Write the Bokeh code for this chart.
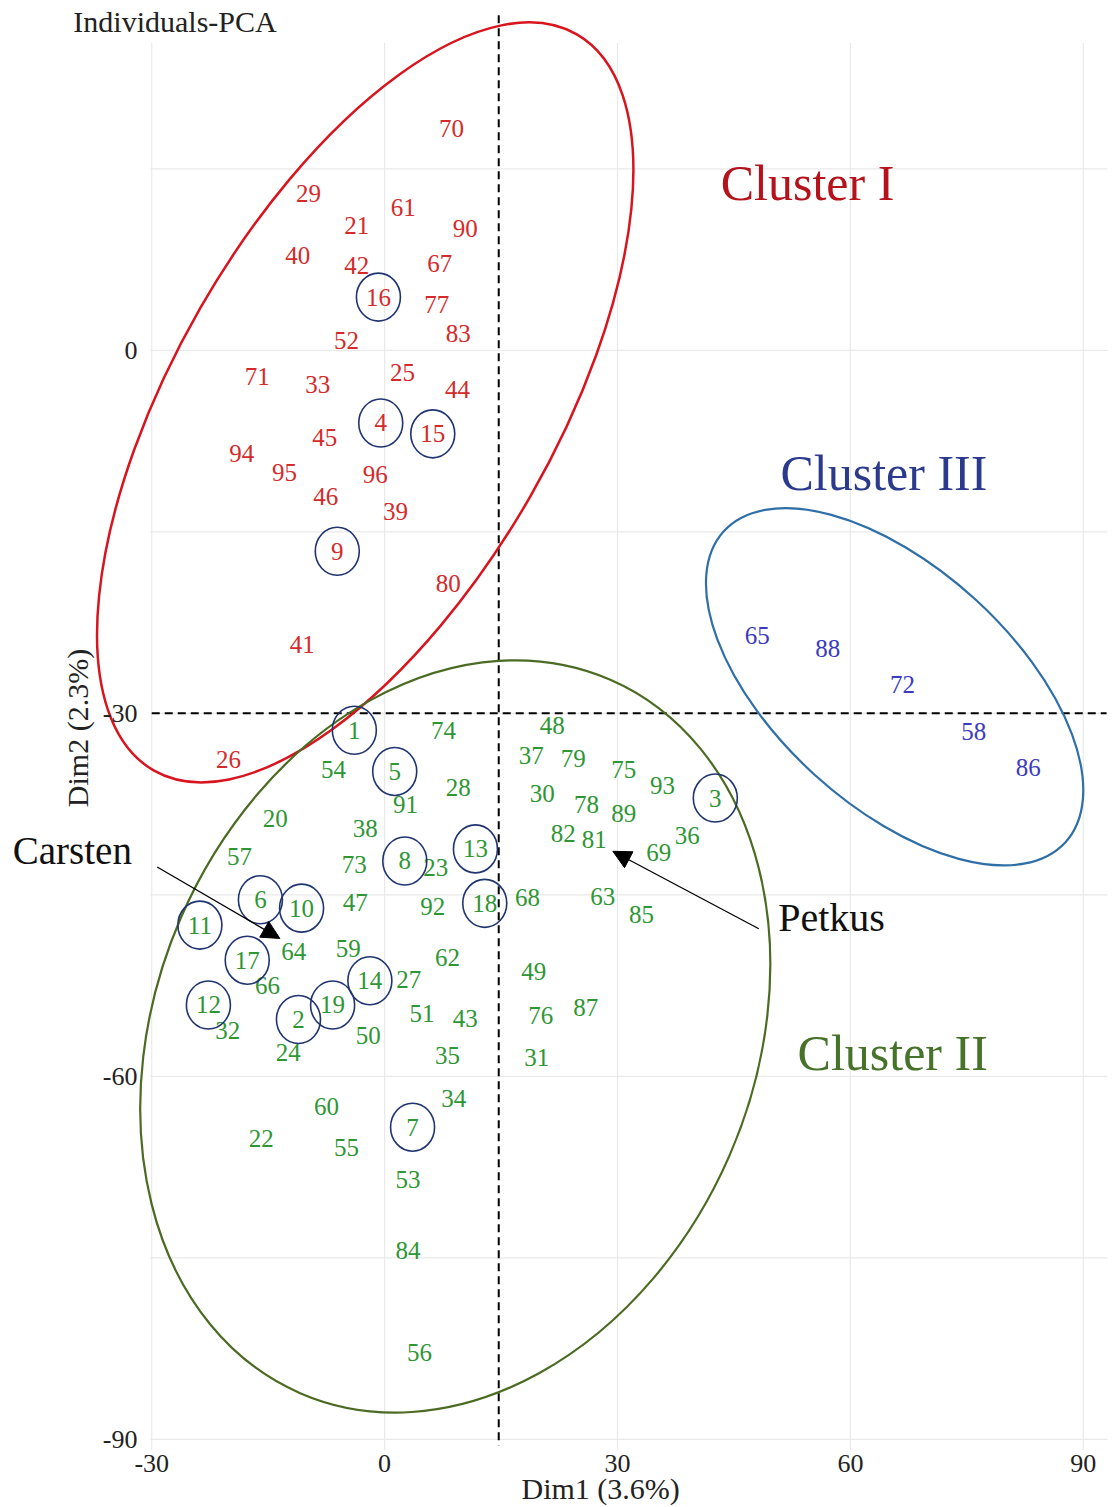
from bokeh.plotting import figure
from bokeh.models import (FixedTicker, Label, Arrow, NormalHead, Range1d, Title,
                          ColumnDataSource)
from bokeh.core.properties import value
from bokeh.embed import file_html
from bokeh.resources import INLINE

# ---------------- data (PCA individual coordinates) ----------------
c1_ids = ["70", "29", "61", "21", "90", "40", "42", "67", "16", "77", "83", "52", "71", "33",
          "25", "44", "4", "15", "45", "94", "95", "96", "46", "39", "9", "80", "41", "26"]
c1_x = [8.6, -9.8, 2.4, -3.6, 10.4, -11.2, -3.6, 7.1, -0.8, 6.7, 9.5, -4.9, -16.4, -8.6,
        2.3, 9.4, -0.5, 6.2, -7.7, -18.4, -12.9, -1.2, -7.6, 1.4, -6.1, 8.2, -10.6, -20.1]
c1_y = [18.3, 13.0, 11.8, 10.3, 10.1, 7.8, 7.0, 7.2, 4.4, 3.8, 1.4, 0.8, -2.2, -2.8,
        -1.8, -3.2, -6.0, -6.9, -7.2, -8.5, -10.1, -10.3, -12.1, -13.3, -16.6, -19.3, -24.3, -33.8]

c2_ids = ["1", "74", "54", "5", "28", "91", "20", "38", "8", "23", "13", "57", "73", "6",
          "10", "47", "92", "18", "68", "11", "64", "59", "62", "17", "14", "27", "49", "66",
          "12", "19", "2", "32", "51", "43", "76", "87", "50", "24", "35", "31", "60", "34",
          "7", "22", "55", "53", "84", "56", "48", "37", "79", "75", "93", "30", "78", "89",
          "3", "82", "81", "36", "69", "63", "85"]
c2_x = [-3.9, 7.6, -6.6, 1.3, 9.5, 2.7, -14.1, -2.5, 2.6, 6.6, 11.7, -18.7, -3.9, -16.0,
        -10.7, -3.8, 6.2, 12.9, 18.4, -23.8, -11.7, -4.7, 8.1, -17.7, -1.9, 3.1, 19.2, -15.1,
        -22.7, -6.7, -11.1, -20.2, 4.8, 10.4, 20.1, 25.9, -2.1, -12.4, 8.1, 19.6, -7.5, 8.9,
        3.6, -15.9, -4.9, 3.0, 3.0, 4.5, 21.6, 18.9, 24.3, 30.8, 35.8, 20.3, 26.0, 30.8,
        42.6, 23.0, 27.0, 39.0, 35.3, 28.1, 33.1]
c2_y = [-31.4, -31.4, -34.6, -34.8, -36.1, -37.5, -38.7, -39.5, -42.2, -42.7, -41.2, -41.8, -42.5, -45.4,
        -46.1, -45.6, -46.0, -45.7, -45.2, -47.5, -49.7, -49.4, -50.2, -50.4, -52.1, -52.0, -51.3, -52.5,
        -54.1, -54.1, -55.3, -56.2, -54.8, -55.2, -55.0, -54.3, -56.6, -58.0, -58.3, -58.4, -62.5, -61.8,
        -64.2, -65.1, -65.9, -68.5, -74.4, -82.8, -31.0, -33.5, -33.7, -34.6, -36.0, -36.6, -37.5, -38.3,
        -37.0, -39.9, -40.4, -40.1, -41.5, -45.1, -46.6]

c3_ids = ["65", "88", "72", "58", "86"]
c3_x = [48.0, 57.1, 66.7, 75.9, 82.9]
c3_y = [-23.6, -24.6, -27.6, -31.5, -34.5]

# check varieties (circled)
check_ids = [str(i) for i in range(1, 20)]

# cluster ellipse centres (data units)
ell_names = ["Cluster I", "Cluster II", "Cluster III"]
ell_cx = [-2.5, 9.1, 65.7]
ell_cy = [-4.3, -56.7, -27.8]

x_ticks = [-30, 0, 30, 60, 90]
y_ticks = [-90, -60, -30, 0]
y_minor = [-75, -45, -15, 15]
ref_x = 14.7
ref_y = -30

FONT = value("Liberation Serif")
RED, GREEN, BLUE = "#d42a2a", "#2e9633", "#3b3bbf"
GRID = "#e9e9e9"

X0, X1 = -48.84, 93.51
Y0, Y1 = -90.92, 28.50
p = figure(width=1114, height=1507, x_range=Range1d(X0, X1), y_range=Range1d(Y0, Y1),
           output_backend="svg", toolbar_location=None, title=None,
           min_border_left=5, min_border_right=4, min_border_top=5, min_border_bottom=57)
p.outline_line_color = None
p.background_fill_color = "white"
p.xgrid.visible = False
p.ygrid.visible = False

# axes
p.xaxis.ticker = FixedTicker(ticks=x_ticks)
p.yaxis.ticker = FixedTicker(ticks=y_ticks, minor_ticks=y_minor)
p.xaxis.major_label_overrides = {t: str(t) for t in x_ticks}
p.yaxis.major_label_overrides = {t: str(t) for t in y_ticks}
for ax in (p.xaxis[0], p.yaxis[0]):
    ax.axis_line_color = None
    ax.major_tick_line_color = None
    ax.minor_tick_line_color = None
    ax.major_tick_out = 0
    ax.major_tick_in = 0
    ax.minor_tick_out = 0
    ax.major_label_text_font = "Liberation Serif"
    ax.major_label_text_font_size = "26px"
    ax.major_label_text_color = "#222222"
    ax.axis_label_text_font = "Liberation Serif"
    ax.axis_label_text_font_size = "30px"
    ax.axis_label_text_font_style = "normal"
    ax.axis_label_text_color = "#222222"
p.yaxis.axis_label = "Dim2 (2.3%)"
p.xaxis.major_label_standoff = 4
p.yaxis.major_label_standoff = -132
p.yaxis.axis_label_standoff = 6
p.add_layout(Title(text="Dim1 (3.6%)", align="left", offset=516, standoff=-10,
                   text_font="Liberation Serif", text_font_size="30px",
                   text_font_style="normal", text_color="#222222"), "below")

# grid lines (only over the panel)
gx0, gx1, gy0, gy1 = -30.2, 93.1, -90.9, 25.4
hy = sorted(y_ticks + y_minor)
p.segment(x0=[gx0] * len(hy), y0=hy, x1=[gx1] * len(hy), y1=hy, line_color=GRID, line_width=1.2)
p.segment(x0=x_ticks, y0=[gy0] * len(x_ticks), x1=x_ticks, y1=[gy1] * len(x_ticks),
          line_color=GRID, line_width=1.2)

# reference dashed lines
p.segment(x0=[ref_x], y0=[27.7], x1=[ref_x], y1=[-90.5],
          line_color="black", line_width=2, line_dash="8 5")
p.segment(x0=[x_ticks[0]], y0=[ref_y], x1=[93.0], y1=[ref_y],
          line_color="black", line_width=2, line_dash="8 5")

# cluster ellipses
p.ellipse(x=[ell_cx[0]], y=[ell_cy[0]], width=849, height=380, angle=60.1,
          angle_units="deg", width_units="screen", height_units="screen",
          fill_color=None, line_color="#d8141e", line_width=2.5)
p.ellipse(x=[ell_cx[1]], y=[ell_cy[1]], width=778, height=598, angle=66.5,
          angle_units="deg", width_units="screen", height_units="screen",
          fill_color=None, line_color="#4b6b22", line_width=2.2)
p.ellipse(x=[ell_cx[2]], y=[ell_cy[2]], width=462, height=238, angle=-42.3,
          angle_units="deg", width_units="screen", height_units="screen",
          fill_color=None, line_color="#2f6fa8", line_width=2.2)

# labels of individuals
for ids, xs, ys, col in ((c1_ids, c1_x, c1_y, RED), (c2_ids, c2_x, c2_y, GREEN),
                         (c3_ids, c3_x, c3_y, BLUE)):
    src = ColumnDataSource(dict(x=xs, y=ys, t=ids))
    p.text(x="x", y="y", text="t", source=src, text_font=FONT, text_font_size="25px",
           text_color=col, text_align="center", text_baseline="middle")

# circles around check varieties
all_ids = c1_ids + c2_ids + c3_ids
all_x = c1_x + c2_x + c3_x
all_y = c1_y + c2_y + c3_y
cx = [all_x[all_ids.index(c)] for c in check_ids]
cy = [all_y[all_ids.index(c)] for c in check_ids]
p.ellipse(x=cx, y=cy, width=44, height=48, width_units="screen", height_units="screen",
          fill_color=None, line_color="#1f3470", line_width=1.6)

# annotations
def lab(x, y, text, size, color, align="left"):
    p.add_layout(Label(x=x, y=y, text=text, text_font="Liberation Serif",
                       text_font_size=size, text_color=color, text_align=align,
                       text_baseline="middle"))

lab(-40.1, 27.2, "Individuals-PCA", "30px", "#222222")
lab(43.3, 13.8, ell_names[0], "50px", "#b5121b")
lab(51.0, -10.1, ell_names[2], "50px", "#2b3a8c")
lab(53.2, -58.1, ell_names[1], "50px", "#46722a")
lab(-47.9, -41.3, "Carsten", "39px", "#111111")
lab(50.7, -46.9, "Petkus", "40px", "#111111")

p.add_layout(Arrow(x_start=-29.3, y_start=-42.7, x_end=-13.5, y_end=-48.6,
                   line_color="black", line_width=1.3,
                   end=NormalHead(size=18, fill_color="black", line_color="black")))
p.add_layout(Arrow(x_start=48.2, y_start=-47.8, x_end=29.4, y_end=-41.4,
                   line_color="black", line_width=1.3,
                   end=NormalHead(size=18, fill_color="black", line_color="black")))

open("out.html", "w").write(file_html(p, INLINE))
